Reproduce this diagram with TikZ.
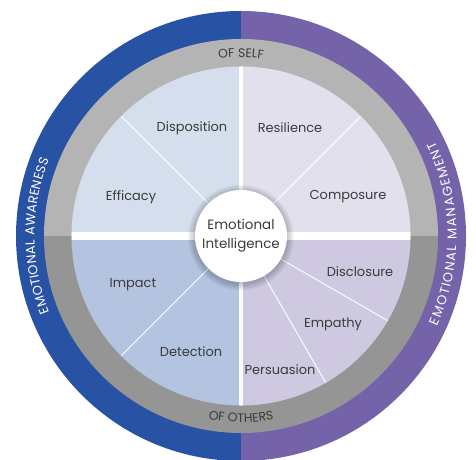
\documentclass[tikz,border=0pt]{standalone}
\usepackage{fontspec}
\setmainfont{Poppins}
\usetikzlibrary{decorations.text}
\definecolor{awblue}{HTML}{2852A3}
\definecolor{mgpurple}{HTML}{7563AA}
\definecolor{graytop}{HTML}{B4B4B4}
\definecolor{graybot}{HTML}{959595}
\definecolor{sectl}{HTML}{D4DEEC}
\definecolor{sectr}{HTML}{E3E0EE}
\definecolor{secbl}{HTML}{B3C3E0}
\definecolor{secbr}{HTML}{CEC9E1}
\definecolor{txt}{HTML}{3A3A3A}
\begin{document}
\begin{tikzpicture}[x=1bp,y=1bp,
  lbl/.style={text=txt, font=\fontsize{13}{14}\selectfont, inner sep=0pt},
  divider/.style={white, line width=0.9bp},
  fitlbl/.style={decorate,
     decoration={text along path, text align=fit to path, text={#1}}},
  ctrlbl/.style={decorate,
     decoration={text along path, text align=center, text={#1}}}]
\useasboundingbox (-241,-224) rectangle (235,236);
\fill[white] (-241,-224) rectangle (235,236);
\coordinate (c) at (0,0);
% outer ring
\fill[awblue] (c) -- (90:225) arc[start angle=90,end angle=270,radius=225] -- cycle;
\fill[mgpurple] (c) -- (-90:225) arc[start angle=-90,end angle=90,radius=225] -- cycle;
% gray ring
\fill[graytop] (0:197) arc[start angle=0,end angle=180,radius=197] -- cycle;
\fill[graybot] (180:197) arc[start angle=180,end angle=360,radius=197] -- cycle;
% sectors
\fill[sectl] (c) -- (90:169.5) arc[start angle=90,end angle=180,radius=169.5] -- cycle;
\fill[sectr] (c) -- (0:169.5) arc[start angle=0,end angle=90,radius=169.5] -- cycle;
\fill[secbl] (c) -- (180:169.5) arc[start angle=180,end angle=270,radius=169.5] -- cycle;
\fill[secbr] (c) -- (270:169.5) arc[start angle=270,end angle=360,radius=169.5] -- cycle;
% gaps
\begin{scope}
  \clip (c) circle[radius=169.5];
  \fill[white] (-171,-3.7) rectangle (171,3.7);
  \fill[white] (-2.2,-171) rectangle (1.8,171);
\end{scope}
% dividers
\foreach \a in {135,45,225,-30,-60}
  \draw[divider] (\a:46) -- (\a:169.5);
% shadow of centre circle
\foreach \r in {47,48,...,53}
  \fill[black, opacity=0.03] (0,-1.5) circle[radius=\r];
\node[circle, fill=white, minimum size=92bp, inner sep=0pt, align=center,
      text=txt, font=\fontsize{13.5}{19}\selectfont] (ei) at (c) {Emotional\\Intelligence};
% sector labels
\node[lbl] (disp) at (-49,108) {Disposition};
\node[lbl] (resi) at (49,108) {Resilience};
\node[lbl] (effi) at (-110,39) {Efficacy};
\node[lbl] (comp) at (107,39) {Composure};
\node[lbl] (impa) at (-108,-49) {Impact};
\node[lbl] (dete) at (-50,-116) {Detection};
\node[lbl] (disc) at (119,-36) {Disclosure};
\node[lbl] (empa) at (92,-88) {Empathy};
\node[lbl] (pers) at (39,-134) {Persuasion};
% curved ring labels
\path[fitlbl={|\fontsize{13}{15}\selectfont\color{white}|EMOTIONAL AWARENESS}]
  (201.7:206.5) arc[start angle=201.7,end angle=158.3,radius=206.5];
\path[fitlbl={|\fontsize{13}{15}\selectfont\color{white}|EMOTIONAL MANAGEMENT}]
  (-24.7:215.5) arc[start angle=-24.7,end angle=26.1,radius=215.5];
\path[ctrlbl={|\fontsize{12.5}{14}\selectfont\color{txt}|OF SELF}]
  (110:178.6) arc[start angle=110,end angle=70,radius=178.6];
\path[ctrlbl={|\fontsize{12.5}{14}\selectfont\color{txt}|OF OTHERS}]
  (250:186.4) arc[start angle=250,end angle=290,radius=186.4];
\end{tikzpicture}
\end{document}
